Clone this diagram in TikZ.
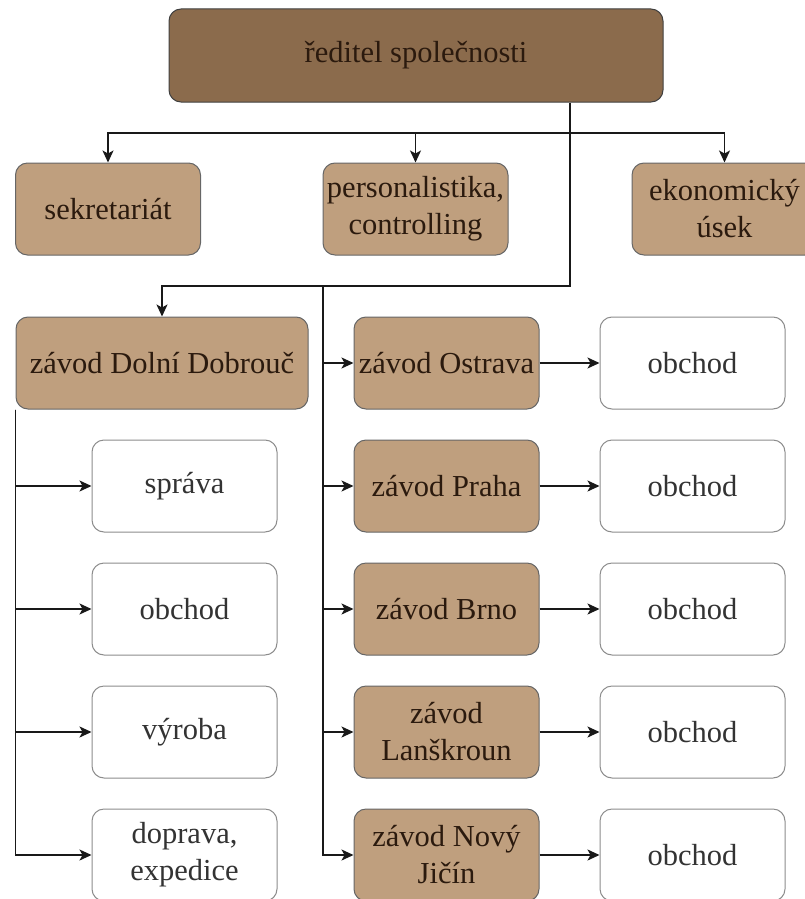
\documentclass[tikz,border=0pt]{standalone}
\usepackage{fontspec}
\setmainfont{Liberation Serif}
\usetikzlibrary{arrows.meta}

\definecolor{darkbrown}{HTML}{8B6B4C}
\definecolor{tanbrown}{HTML}{BF9F7E}
\definecolor{inkbrown}{HTML}{2B1A0E}

\begin{document}
\begin{tikzpicture}[x=1pt,y=-1pt,
			every node/.style={font=\fontsize{30.5}{37}\selectfont,align=center,inner sep=0pt},
			org box/.style={rectangle,rounded corners=12pt,line width=1pt,minimum width=185pt,minimum height=92pt},
			head node/.style={org box,draw=black!75,fill=darkbrown,text=inkbrown,minimum width=494pt,minimum height=93pt},
			unit node/.style={org box,draw=black!60,fill=tanbrown,text=inkbrown},
			dept node/.style={org box,draw=black!45,fill=white,text=black!80},
			link/.style={-{Stealth[length=12pt,width=11pt,inset=3pt]},line width=1.5pt,black!90}
			]

			\useasboundingbox (0,0) rectangle (805,899);

			% top level
			\node[head node] (dir) at (416,55.5) {ředitel společnosti};
			\node[unit node] (sekr) at (108,209) {sekretariát};
			\node[unit node] (pers) at (415.5,209) {personalistika,\\controlling};
			\node[unit node] (ekon) at (724.5,209) {ekonomický\\úsek};

			\coordinate (j1) at (570,133);
			\coordinate (j2) at (570,286);
			\coordinate (j3) at (323,286);

			\draw[link] (dir.south -| j1) -- (j1) -| (sekr.north);
			\draw[link] (j1) -| (pers.north);
			\draw[link] (j1) -| (ekon.north);

			% plants
			\node[unit node,minimum width=292pt] (dd) at (162,363) {závod Dolní Dobrouč};
			\draw[link] (j1) -- (j2) -| (dd.north);

			\foreach \name/\txt [count=\i] in {sprava/správa, obchod/obchod, vyroba/výroba, doprava/{doprava,\\expedice}} {
				\node[dept node] (\name) at (184.5,{363+123*\i}) {\txt};
				\draw[link] (dd.south west) |- (\name.west);
			}

			\foreach \name/\txt [count=\i from 0] in {ostrava/{závod Ostrava}, praha/{závod Praha}, brno/{závod Brno}, lanskroun/{závod\\Lanškroun}, jicin/{závod Nový\\Jičín}} {
				\node[unit node] (\name) at (446.5,{363+123*\i}) {\txt};
				\node[dept node] (\name obchod) at (692.5,{363+123*\i}) {obchod};
				\draw[link] (j3) |- (\name.west);
				\draw[link] (\name) -- (\name obchod);
			}
		\end{tikzpicture}
\end{document}
